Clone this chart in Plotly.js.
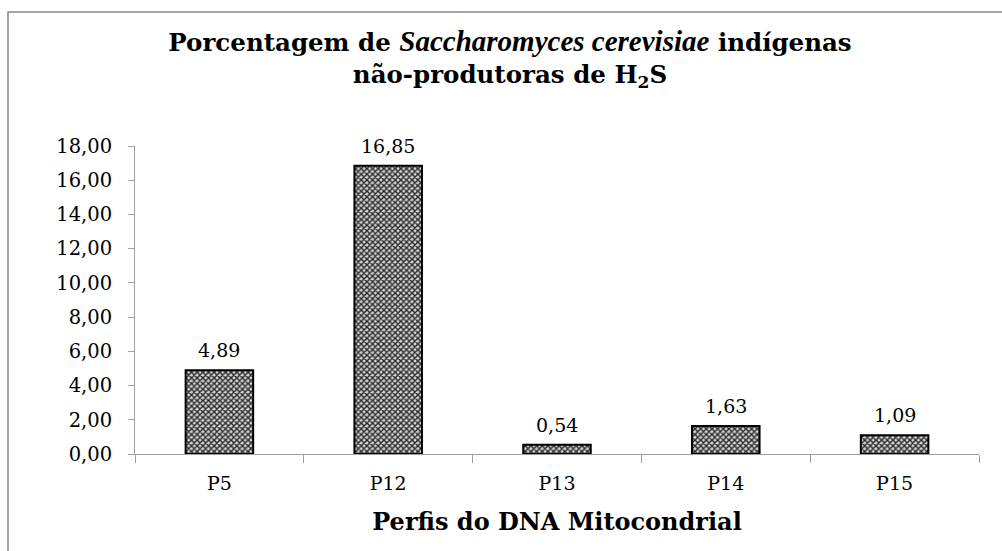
<!DOCTYPE html>
<html>
<head>
<meta charset="utf-8">
<script src="https://cdn.plot.ly/plotly-3.0.1.min.js"></script>
<style>html,body{margin:0;padding:0;background:#fff;}#chart{width:1002px;height:551px;}</style>
</head>
<body>
<div id="chart"></div>
<script>
const categories = ["P5", "P12", "P13", "P14", "P15"];
const values = [4.89, 16.85, 0.54, 1.63, 1.09];
const yTicks = [0, 2, 4, 6, 8, 10, 12, 14, 16, 18];

const L = 135, R = 23, T = 146, B = 97, W = 1002, H = 551;
const pw = W - L - R, ph = H - T - B;
const px = v => (v - L) / pw;
const py = v => (H - B - v) / ph;

const serif = "DejaVu Serif, Liberation Serif, serif";

const trace = {
  type: "bar",
  x: categories,
  y: values,
  marker: {
    color: "#ffffff",
    line: {color: "#000", width: 2},
    pattern: {shape: "x", fgcolor: "#2a2a2a", bgcolor: "#d8d8d8", size: 4, solidity: 0.6}
  },
  hoverinfo: "skip"
};

const labelAnnotations = categories.map((c, i) => ({
  x: c, y: values[i], xref: "x", yref: "y",
  text: values[i].toFixed(2).replace(".", ","),
  showarrow: false, yanchor: "bottom", yshift: 7,
  font: {family: serif, size: 19, color: "#000"}
}));

const layout = {
  width: W, height: H,
  margin: {l: L, r: R, t: T, b: B},
  paper_bgcolor: "#fff", plot_bgcolor: "#fff",
  separators: ",.",
  bargap: 0.6,
  showlegend: false,
  title: {
    text: "Porcentagem de <span style=\"font-family:'Liberation Serif';font-size:29px;font-weight:bold\"><i>Saccharomyces cerevisiae</i></span> indígenas<br>não-produtoras de H<sub>2</sub>S",
    font: {family: serif, size: 24.5, color: "#000", weight: "bold"},
    x: 0.509, xanchor: "center",
    y: 1 - 51 / H, yanchor: "top"
  },
  xaxis: {
    showline: true, linecolor: "#a0a0a0", linewidth: 1,
    ticks: "outside", tickson: "boundaries", ticklen: 8, tickcolor: "#a0a0a0",
    ticklabelstandoff: 12,
    tickfont: {family: serif, size: 19, color: "#000"},
    showgrid: false, zeroline: false,
    title: {text: "<b>Perfis do DNA Mitocondrial</b>", font: {family: serif, size: 24, color: "#000"}, standoff: 20}
  },
  yaxis: {
    range: [0, 18], tickvals: yTicks, tickformat: ".2f",
    showline: true, linecolor: "#a0a0a0", linewidth: 1,
    ticks: "outside", ticklen: 6, tickcolor: "#a0a0a0",
    ticklabelstandoff: 12,
    tickfont: {family: serif, size: 19.5, color: "#000"},
    showgrid: false, zeroline: false
  },
  annotations: labelAnnotations,
  shapes: [
    {type: "rect", xref: "paper", yref: "paper",
     x0: px(8), x1: px(1040), y0: py(600), y1: py(12),
     line: {color: "#888", width: 1.5}, fillcolor: "rgba(0,0,0,0)", layer: "below"}
  ]
};

Plotly.newPlot("chart", [trace], layout, {displayModeBar: false, staticPlot: true});
</script>
</body>
</html>
